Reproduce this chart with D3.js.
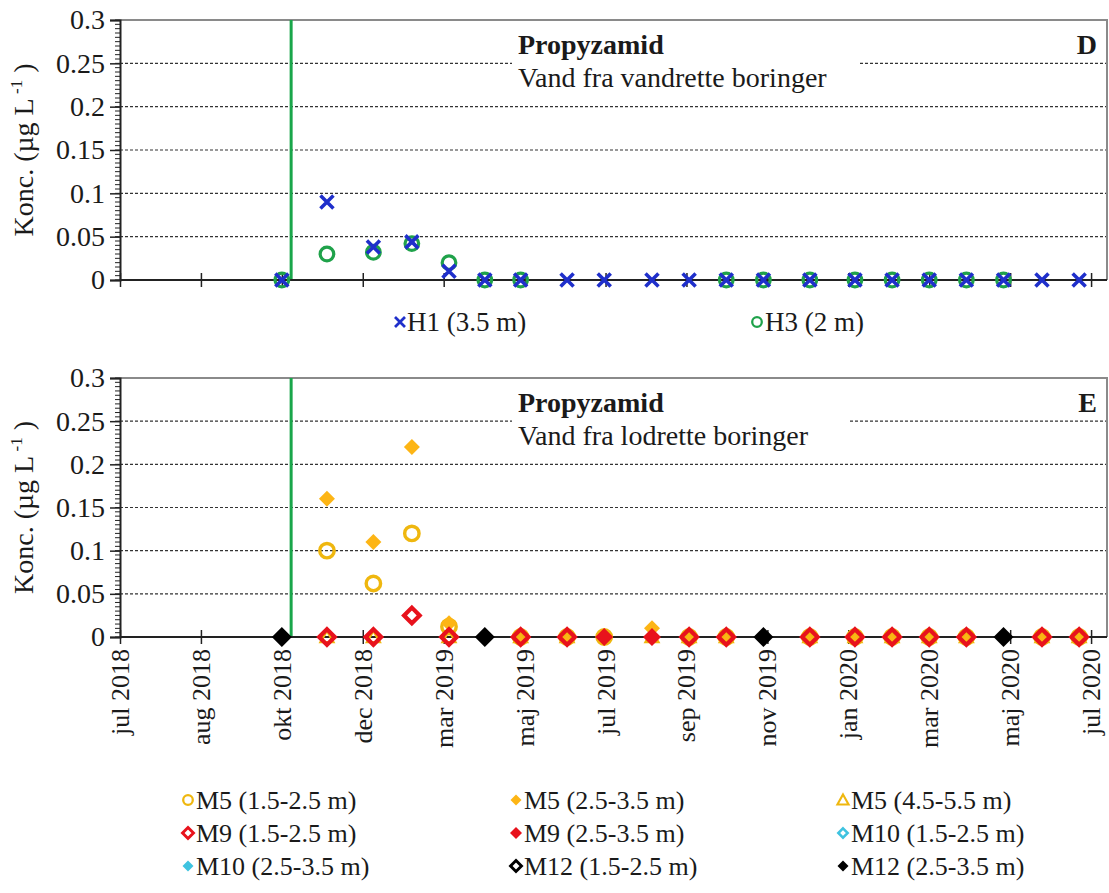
<!DOCTYPE html>
<html>
<head>
<meta charset="utf-8">
<script src="https://cdn.jsdelivr.net/npm/d3@7"></script>
<style>
  html, body { margin: 0; padding: 0; background: #fff; }
  svg { display: block; }
  svg text { font-family: "Liberation Serif", "Times New Roman", serif; }
</style>
</head>
<body>
<svg id="chart" width="1109" height="893"></svg>
<script>
// ---------- DATA ----------
const sampleDates = ["2018-10-31","2018-12-04","2019-01-08","2019-02-06","2019-03-06","2019-04-02",
  "2019-04-29","2019-06-03","2019-07-01","2019-08-06","2019-09-03","2019-10-01","2019-10-29",
  "2019-12-03","2020-01-06","2020-02-03","2020-03-02","2020-03-30","2020-04-27","2020-05-26","2020-06-23"];

// Panel D (horizontal borings)
const H1 = [0, 0.09, 0.038, 0.044, 0.01, 0, 0, 0, 0, 0, 0, 0, 0, 0, 0, 0, 0, 0, 0, 0, 0];
const H3 = [0, 0.03, 0.032, 0.042, 0.02, 0, 0, null, null, null, null, 0, 0, 0, 0, 0, 0, 0, 0, null, null];

// Panel E (vertical borings)
const M5_15 = [null, 0.1, 0.062, 0.12, 0.012, null, 0, 0, 0, null, 0, 0, null, 0, 0, 0, 0, 0, null, 0, 0];
const M5_25 = [null, 0.16, 0.11, 0.22, 0.016, null, 0, 0, 0, 0.01, 0, 0, null, 0, 0, 0, 0, 0, null, 0, 0];
const M5_45 = [null, 0, 0, null, 0, null, 0, 0, null, 0, 0, 0, null, 0, 0, 0, 0, 0, null, 0, 0];
const M9_15 = [null, 0, 0, 0.025, 0, null, 0, 0, null, null, 0, 0, null, 0, 0, 0, 0, 0, null, 0, 0];
const M9_25 = [null, null, null, null, null, null, null, null, 0, 0, null, null, null, null, null, null, null, null, null, null, null];
const M10_15 = [null, null, null, null, null, null, null, null, null, null, null, null, null, null, null, null, null, null, null, null, null];
const M10_25 = [null, null, null, null, null, null, null, null, null, null, null, null, null, null, null, null, null, null, null, null, null];
const M12_15 = [null, null, null, null, null, null, null, null, null, null, null, null, null, null, null, null, null, null, null, null, null];
const M12_25 = [0, null, null, null, null, 0, null, null, null, null, null, null, 0, null, null, null, null, null, 0, null, null];

const xTickLabels = ["jul 2018","aug 2018","okt 2018","dec 2018","mar 2019","maj 2019","jul 2019",
  "sep 2019","nov 2019","jan 2020","mar 2020","maj 2020","jul 2020"];
const xStart = "2018-07-01", xEnd = "2020-07-14", xTickStepDays = 61;
const yTicks = [0, 0.05, 0.1, 0.15, 0.2, 0.25, 0.3];
const yTickLabels = ["0", "0.05", "0.1", "0.15", "0.2", "0.25", "0.3"];
const applicationDate = "2018-11-07";

// ---------- DRAW ----------
const FONT = '"Liberation Serif", "Times New Roman", serif';
const parse = d3.timeParse("%Y-%m-%d");
const svg = d3.select("#chart");
const L = 120, R = 1107;
const x = d3.scaleTime().domain([parse(xStart), parse(xEnd)]).range([L, R]);
const xTickDates = xTickLabels.map((_, i) => d3.timeDay.offset(parse(xStart), i * xTickStepDays));

const COL = {
  blue: "#1F2FCB", green: "#1FA24A", gold: "#EFB70F", orange: "#FDB515",
  red: "#E8121C", cyan: "#3EC3E0", black: "#000", gline: "#19A64A", text: "#1a1a1a"
};

function shape(g, type, cx, cy, s, color) {
  if (type === "x") {
    g.append("path").attr("d", `M${cx-s},${cy-s}L${cx+s},${cy+s}M${cx-s},${cy+s}L${cx+s},${cy-s}`)
      .attr("stroke", color).attr("stroke-width", s * 0.55).attr("fill", "none");
  } else if (type === "circle") {
    g.append("circle").attr("cx", cx).attr("cy", cy).attr("r", s * 0.8)
      .attr("stroke", color).attr("stroke-width", s * 0.38).attr("fill", "none");
  } else if (type === "diamondF") {
    g.append("path").attr("d", `M${cx},${cy-s}L${cx+s},${cy}L${cx},${cy+s}L${cx-s},${cy}Z`).attr("fill", color);
  } else if (type === "diamondO") {
    const t = s * 0.78;
    g.append("path").attr("d", `M${cx},${cy-t}L${cx+t},${cy}L${cx},${cy+t}L${cx-t},${cy}Z`)
      .attr("fill", "none").attr("stroke", color).attr("stroke-width", s * 0.42);
  } else if (type === "triangle") {
    const t = s * 0.8;
    g.append("path").attr("d", `M${cx},${cy-t}L${cx+t},${cy+t*0.8}L${cx-t},${cy+t*0.8}Z`)
      .attr("fill", "none").attr("stroke", color).attr("stroke-width", s * 0.3);
  }
}

function panel(top, bottom, letter, subtitle, series, boxRight) {
  const y = d3.scaleLinear().domain([0, 0.3]).range([bottom, top]);
  const g = svg.append("g");

  g.selectAll("line.grid").data(yTicks.filter(v => v > 0 && v < 0.3)).join("line")
    .attr("x1", L).attr("x2", R).attr("y1", d => y(d)).attr("y2", d => y(d))
    .attr("stroke", "#333").attr("stroke-width", 1.2).attr("stroke-dasharray", "3,2");

  g.append("path").attr("d", `M${L},${y(0.3)}H${R}V${y(0)}`).attr("fill", "none")
    .attr("stroke", "#8a8a8a").attr("stroke-width", 2);

  g.append("rect").attr("x", 512).attr("y", y(0.3) + 8).attr("width", boxRight - 512).attr("height", 68).attr("fill", "#fff");
  g.append("text").attr("x", 518).attr("y", y(0.3) + 34).attr("font-size", 28).attr("font-weight", "bold")
    .attr("fill", COL.text).text("Propyzamid");
  g.append("text").attr("x", 518).attr("y", y(0.3) + 67).attr("font-size", 28).attr("fill", COL.text).text(subtitle);
  g.append("text").attr("x", 1097).attr("y", y(0.3) + 34).attr("font-size", 28).attr("font-weight", "bold")
    .attr("text-anchor", "end").attr("fill", COL.text).text(letter);

  g.append("line").attr("x1", x(parse(applicationDate))).attr("x2", x(parse(applicationDate)))
    .attr("y1", y(0.3)).attr("y2", y(0)).attr("stroke", COL.gline).attr("stroke-width", 3);

  const minor = d3.range(0, 0.3001, 0.005);
  g.selectAll("line.minor").data(minor).join("line")
    .attr("x1", L - 5).attr("x2", L).attr("y1", d => y(d)).attr("y2", d => y(d))
    .attr("stroke", "#222").attr("stroke-width", 1);
  const yAxis = d3.axisLeft(y).tickValues(yTicks).tickFormat((d, i) => yTickLabels[i]).tickSize(10).tickPadding(5);
  const ya = g.append("g").attr("transform", `translate(${L},0)`).call(yAxis).attr("font-family", FONT);
  ya.select(".domain").attr("stroke", "#222").attr("stroke-width", 2);
  ya.selectAll(".tick line").attr("stroke", "#222").attr("stroke-width", 1.5);
  ya.selectAll(".tick text").attr("font-size", 28).attr("fill", COL.text);

  const yt = g.append("text").attr("transform", `translate(33,${(top + bottom) / 2}) rotate(-90)`)
    .attr("text-anchor", "middle").attr("font-size", 28).attr("fill", COL.text);
  yt.append("tspan").text("Konc.  (µg L");
  yt.append("tspan").attr("font-size", 17).attr("dy", -11).text(" -1");
  yt.append("tspan").attr("dy", 11).text("  )");

  const xa = g.append("g").attr("transform", `translate(0,${y(0)})`)
    .call(d3.axisBottom(x).tickValues(xTickDates).tickFormat("").tickSize(7));
  xa.select(".domain").attr("stroke", "#222").attr("stroke-width", 2).attr("d", `M${L},0H${R}`);
  xa.selectAll(".tick line").attr("stroke", "#222").attr("stroke-width", 1.5).attr("y1", -7);

  series.forEach(sr => {
    const mg = g.append("g");
    sr.values.forEach((v, i) => {
      if (v === null || v === undefined) return;
      shape(mg, sr.type, x(parse(sampleDates[i])), y(v), sr.size, sr.color);
    });
  });
  return { g, y };
}

// Panel D
panel(20, 280, "D", "Vand fra vandrette boringer", [
  { values: H3, type: "circle", color: COL.green, size: 8.5 },
  { values: H1, type: "x", color: COL.blue, size: 6.5 }
], 860);

const lgD = svg.append("g");
shape(lgD, "x", 400, 322, 5, COL.blue);
lgD.append("text").attr("x", 407).attr("y", 331).attr("font-size", 27).attr("fill", COL.text).text("H1 (3.5 m)");
shape(lgD, "circle", 757, 322, 6, COL.green);
lgD.append("text").attr("x", 765).attr("y", 331).attr("font-size", 27).attr("fill", COL.text).text("H3 (2 m)");

// Panel E
panel(378, 637, "E", "Vand fra lodrette boringer", [
  { values: M5_15, type: "circle", color: COL.gold, size: 9 },
  { values: M5_25, type: "diamondF", color: COL.orange, size: 8 },
  { values: M5_45, type: "triangle", color: COL.gold, size: 8 },
  { values: M10_15, type: "diamondO", color: COL.cyan, size: 9 },
  { values: M10_25, type: "diamondF", color: COL.cyan, size: 8 },
  { values: M9_15, type: "diamondO", color: COL.red, size: 10 },
  { values: M9_25, type: "diamondF", color: COL.red, size: 9 },
  { values: M12_15, type: "diamondO", color: COL.black, size: 10 },
  { values: M12_25, type: "diamondF", color: COL.black, size: 10 }
], 848);

svg.append("g").selectAll("text").data(xTickDates).join("text")
  .attr("transform", d => `translate(${x(d) + 9},${637 + 12}) rotate(-90)`)
  .attr("text-anchor", "end").attr("font-size", 26).attr("fill", COL.text)
  .text((d, i) => xTickLabels[i]);

const legendE = [
  { name: "M5 (1.5-2.5 m)", type: "circle", color: COL.gold, size: 6 },
  { name: "M5 (2.5-3.5 m)", type: "diamondF", color: COL.orange, size: 5.5 },
  { name: "M5 (4.5-5.5 m)", type: "triangle", color: COL.gold, size: 7 },
  { name: "M9 (1.5-2.5 m)", type: "diamondO", color: COL.red, size: 7 },
  { name: "M9 (2.5-3.5 m)", type: "diamondF", color: COL.red, size: 6 },
  { name: "M10 (1.5-2.5 m)", type: "diamondO", color: COL.cyan, size: 6 },
  { name: "M10 (2.5-3.5 m)", type: "diamondF", color: COL.cyan, size: 5.5 },
  { name: "M12 (1.5-2.5 m)", type: "diamondO", color: COL.black, size: 7 },
  { name: "M12 (2.5-3.5 m)", type: "diamondF", color: COL.black, size: 5.5 }
];
const lgE = svg.append("g");
const colX = [188, 516, 843], rowY = [800, 833, 866];
legendE.forEach((it, i) => {
  const cx = colX[i % 3], cy = rowY[Math.floor(i / 3)];
  shape(lgE, it.type, cx, cy, it.size, it.color);
  lgE.append("text").attr("x", cx + 8).attr("y", cy + 9).attr("font-size", 26).attr("fill", COL.text).text(it.name);
});
</script>
</body>
</html>
